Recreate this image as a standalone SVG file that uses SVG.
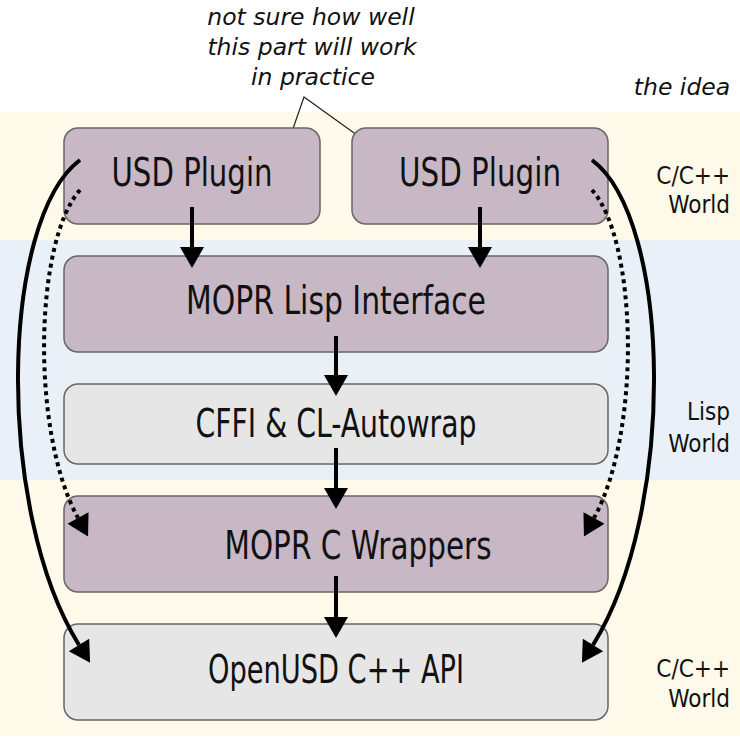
<svg xmlns="http://www.w3.org/2000/svg" width="740" height="740" viewBox="0 0 740 740">
<defs>
<style>
.band-c{fill:#fef9e9}
.band-b{fill:#e9f0f8}
.node-p{fill:#c8b7c4;stroke:#666;stroke-width:1.5}
.node-g{fill:#e6e6e6;stroke:#666;stroke-width:1.5}
.lbl{font-family:"Ubuntu Condensed","DejaVu Sans Condensed","DejaVu Sans",sans-serif;font-stretch:condensed;font-size:39px;fill:#111;text-anchor:middle}
.side{font-family:"Ubuntu Condensed","DejaVu Sans Condensed","DejaVu Sans",sans-serif;font-stretch:condensed;font-size:24px;fill:#111;text-anchor:end}
.note{font-family:"DejaVu Sans",sans-serif;font-style:italic;font-size:23.5px;fill:#111;text-anchor:middle}
.arr{fill:none;stroke:#000;stroke-width:4;marker-end:url(#ah)}
.dot{fill:none;stroke:#000;stroke-width:4;stroke-dasharray:4 4;marker-end:url(#ah)}
.thin{fill:none;stroke:#222;stroke-width:1.2}
</style>
<marker id="ah" markerUnits="userSpaceOnUse" markerWidth="26" markerHeight="26" viewBox="0 -13 22 26" refX="0" refY="0" orient="auto">
<path d="M0,-12 L21,0 L0,12 z" fill="#000"/>
</marker>
</defs>
<rect x="0" y="0" width="740" height="740" fill="#fff"/>
<rect class="band-c" x="0" y="112" width="740" height="128"/>
<rect class="band-b" x="0" y="240" width="740" height="240"/>
<rect class="band-c" x="0" y="480" width="740" height="256"/>

<g id="labels">
<text class="note" x="311" y="25">not sure how well</text>
<text class="note" x="312" y="55">this part will work</text>
<text class="note" x="313" y="85">in practice</text>
<text class="note" x="682" y="95">the idea</text>
<text class="side" x="730" y="184">C/C++</text>
<text class="side" x="730" y="213">World</text>
<text class="side" x="730" y="420">Lisp</text>
<text class="side" x="730" y="452">World</text>
<text class="side" x="730" y="677">C/C++</text>
<text class="side" x="730" y="707">World</text>
<path class="thin" d="M288,143 L304,97 L368,143"/>
</g>

<g id="plugin-left">
<rect class="node-p" x="64" y="128" width="256" height="96" rx="14"/>
<text class="lbl" x="192" y="186" textLength="161" lengthAdjust="spacingAndGlyphs">USD Plugin</text>
</g>
<g id="plugin-right">
<rect class="node-p" x="352" y="128" width="256" height="96" rx="14"/>
<text class="lbl" x="480" y="186" textLength="162" lengthAdjust="spacingAndGlyphs">USD Plugin</text>
</g>
<g id="lisp-interface">
<rect class="node-p" x="64" y="256" width="544" height="96" rx="14"/>
<text class="lbl" x="336" y="314" textLength="300" lengthAdjust="spacingAndGlyphs">MOPR Lisp Interface</text>
</g>
<g id="cffi">
<rect class="node-g" x="64" y="384" width="544" height="80" rx="14"/>
<text class="lbl" x="336" y="437" textLength="281" lengthAdjust="spacingAndGlyphs">CFFI &amp; CL-Autowrap</text>
</g>
<g id="c-wrappers">
<rect class="node-p" x="64" y="496" width="544" height="96" rx="14"/>
<text class="lbl" x="358" y="559" textLength="267" lengthAdjust="spacingAndGlyphs">MOPR C Wrappers</text>
</g>
<g id="openusd">
<rect class="node-g" x="64" y="624" width="544" height="96" rx="14"/>
<text class="lbl" x="336" y="683" textLength="256" lengthAdjust="spacingAndGlyphs">OpenUSD C++ API</text>
</g>

<g id="connectors">
<path class="arr" d="M192,207 L192,247"/>
<path class="arr" d="M480,207 L480,247"/>
<path class="arr" d="M336,336 L336,375"/>
<path class="arr" d="M336,448 L336,488"/>
<path class="arr" d="M336,576 L336,617"/>
<path class="arr" d="M80,160 C0,220 -5,510 79,645"/>
<path class="dot" d="M80,190 C35,240 30,430 78,518"/>
<path class="arr" d="M592,160 C672,220 677,510 593,645"/>
<path class="dot" d="M592,190 C637,240 642,430 594,518"/>
</g>
</svg>
